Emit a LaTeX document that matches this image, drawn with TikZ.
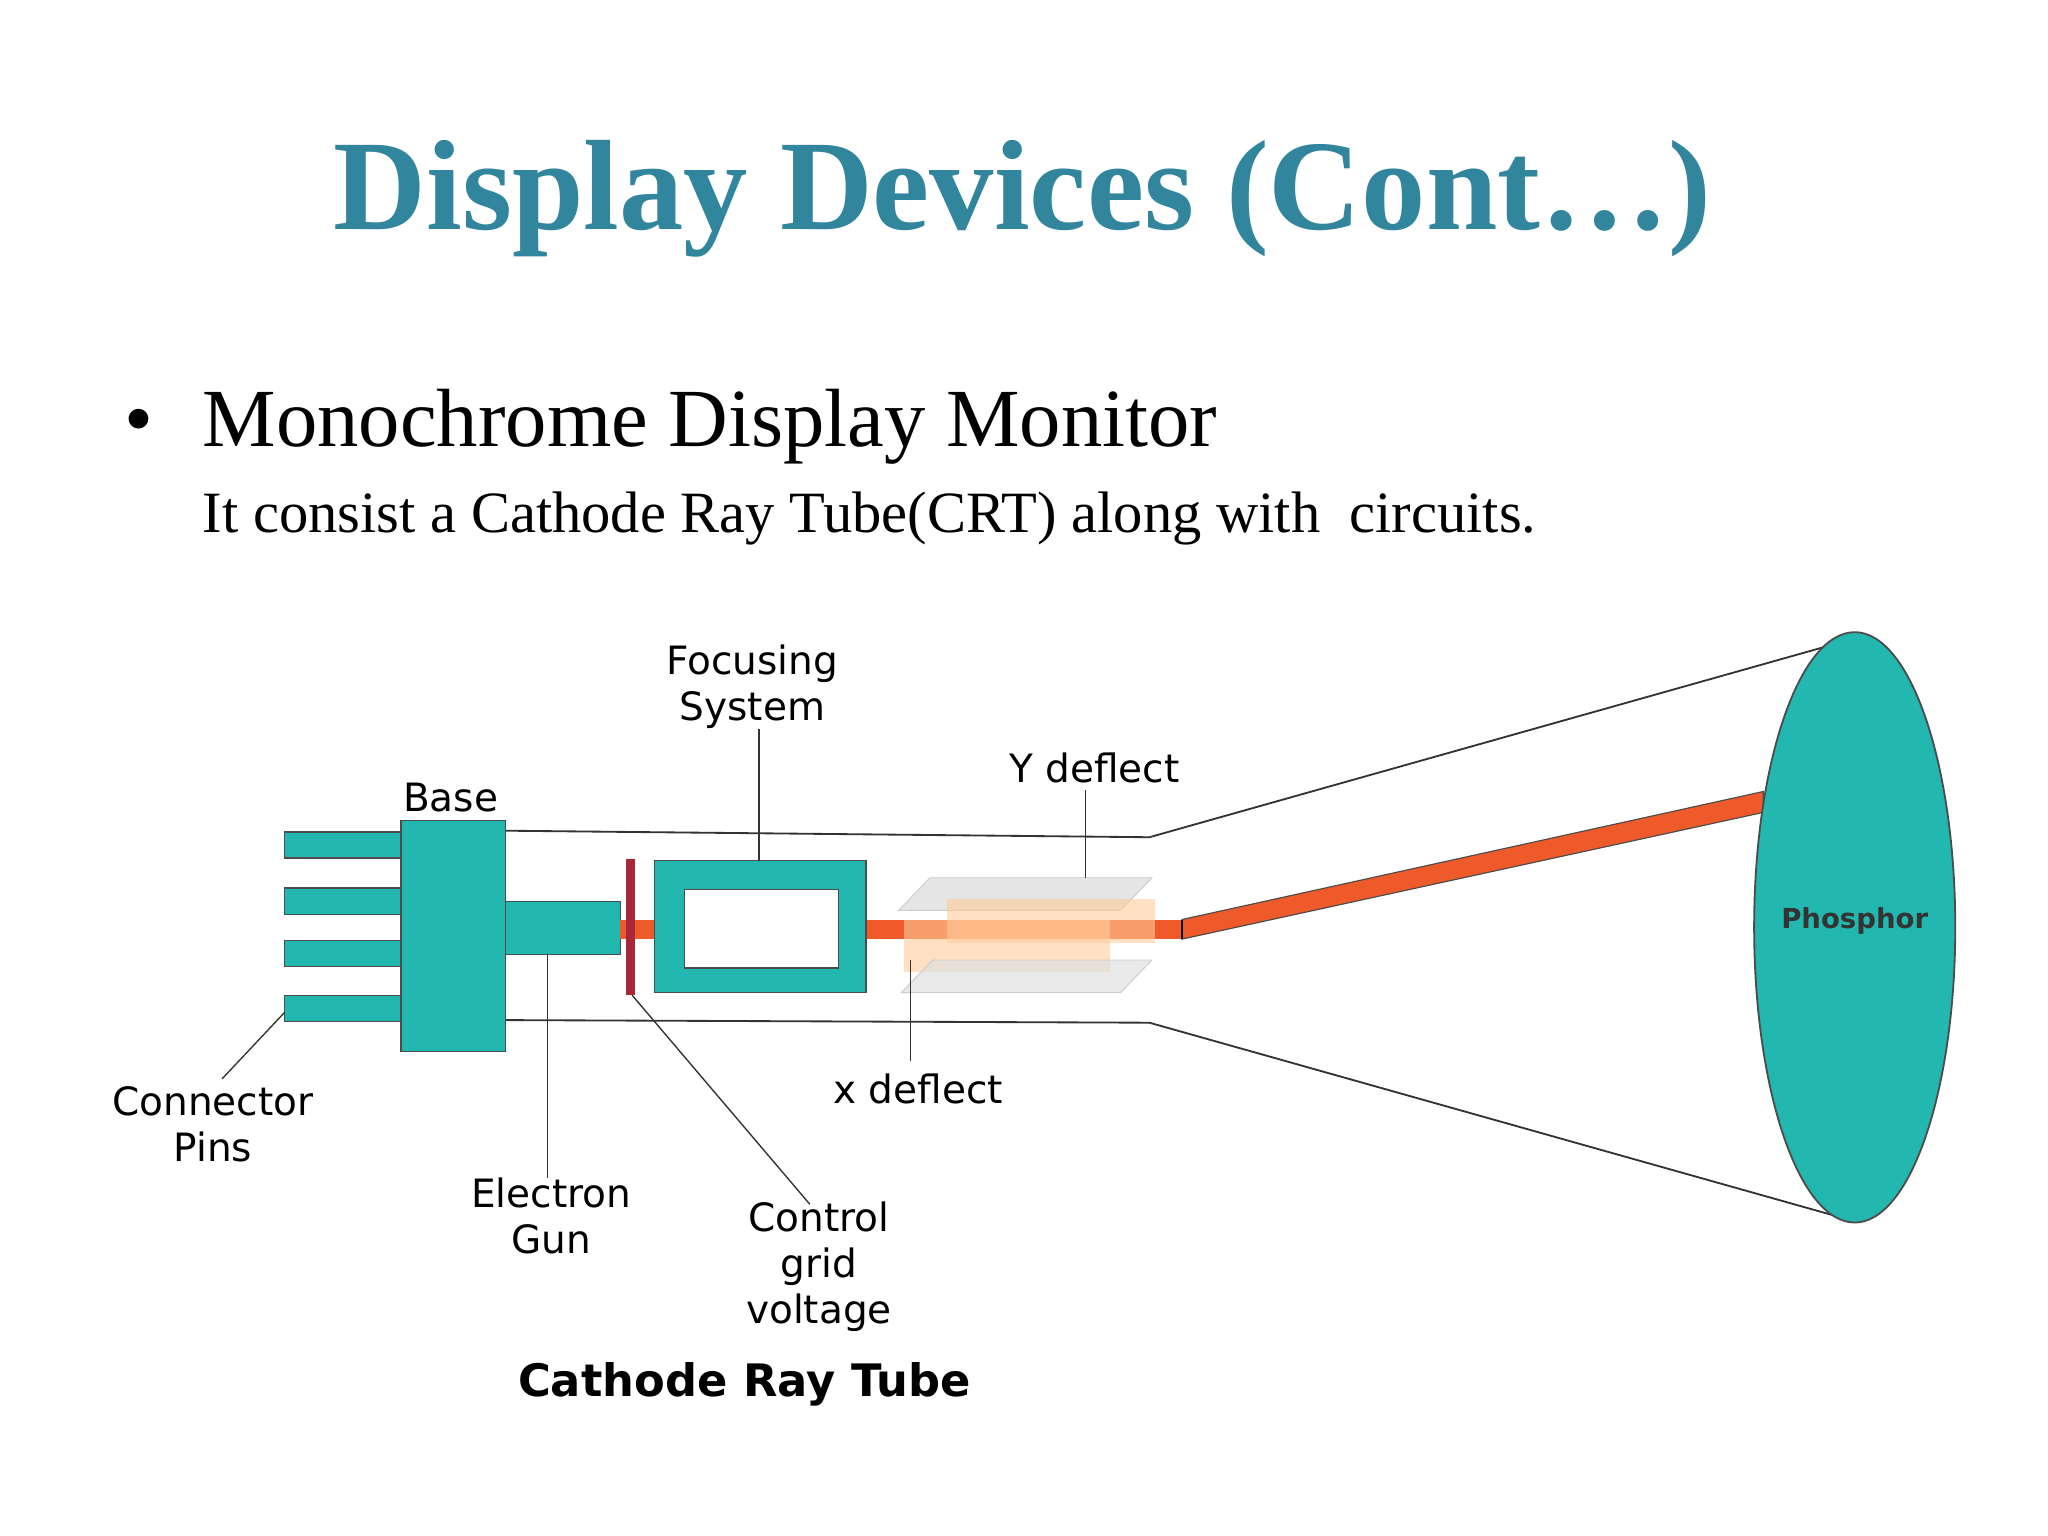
\documentclass[tikz,border=0pt]{standalone}
\usepackage{fontspec}
\setmainfont{Liberation Serif}
\newfontfamily\lbl{DejaVu Sans}
\begin{document}
\begin{tikzpicture}[x=0.02cm,y=-0.02cm,
  teal/.style={fill=tealc,draw=black!70,line width=0.6pt},
  lab/.style={font=\lbl\fontsize{17}{20}\selectfont,align=center,inner sep=0pt},
  lead/.style={draw=black!80,line width=0.6pt}]
\definecolor{tealc}{HTML}{22B8B0}
\definecolor{titlec}{HTML}{31859C}
\definecolor{beamc}{HTML}{EE5A2A}
\definecolor{gridc}{HTML}{A8283A}
\useasboundingbox (0,0) rectangle (1568,1176);
\node[text=titlec,font=\fontsize{56}{62}\selectfont\bfseries] (title) at (783,152) {Display Devices (Cont…)};
\node[anchor=base west,font=\fontsize{36}{42}\selectfont,inner sep=0pt] (b1) at (95,342) {•};
\node[anchor=base west,font=\fontsize{36}{42}\selectfont,inner sep=0pt] (mono) at (155,342) {Monochrome Display Monitor};
\node[anchor=base west,font=\fontsize{25.5}{30}\selectfont,inner sep=0pt] (sub) at (155,408) {It consist a Cathode Ray Tube(CRT) along with\ \ circuits.};
% tube outline
\draw[line width=0.8pt,draw=black!80] (387,636) -- (880,641) -- (1398,495);
\draw[line width=0.8pt,draw=black!80] (387,781) -- (880,783) -- (1402,930);
% pins
\foreach \y/\n in {637/p1,680/p2,720/p3,762/p4}
  \draw[teal] (218,\y) rectangle (308,\y+20) coordinate (\n);
\draw[teal] (307,628) rectangle (387,805);
\draw[teal] (387,690) rectangle (475,731);
% beam
\fill[beamc] (475,704) rectangle (905,719);
\draw[fill=beamc,draw=black!70,line width=0.5pt] (905,704) -- (1350,606) -- (1350,622) -- (905,719) -- cycle;
\draw[line width=0.5pt] (905,704) -- (905,719);
% grid
\fill[gridc] (479,658) rectangle (486,762);
% focusing
\draw[teal] (501,659) rectangle (663,760);
\draw[fill=white,draw=black!70,line width=0.6pt] (524,681) rectangle (642,741);
% deflect plates
\fill[gray!25,opacity=0.8] (688,697) -- (712,672) -- (882,672) -- (858,697) -- cycle;
\draw[gray!40] (688,697) -- (712,672) -- (882,672) -- (858,697) -- cycle;
\fill[orange!40,opacity=0.6] (725,688) rectangle (884,722);
\fill[orange!40,opacity=0.6] (692,704) rectangle (850,744);
\fill[gray!25,opacity=0.7] (690,760) -- (714,735) -- (882,735) -- (858,760) -- cycle;
\draw[gray!40] (690,760) -- (714,735) -- (882,735) -- (858,760) -- cycle;
% screen
\draw[fill=tealc,draw=black!70,line width=0.8pt] (1420,710) ellipse (77 and 226);
\node[font=\lbl\bfseries\fontsize{12}{14}\selectfont,text=black!80] (ph) at (1420,705) {Phosphor};
% labels
\node[lab] (foc) at (576,526) {Focusing\\System};
\node[lab] (base) at (345,611) {Base};
\node[lab] (yd) at (838,588) {Y deflect};
\node[lab] (xd) at (703,834) {x deflect};
\node[lab] (cp) at (163,861) {Connector\\Pins};
\node[lab] (eg) at (422,931) {Electron\\Gun};
\node[lab] (cg) at (627,970) {Control\\grid\\voltage};
\node[lab,font=\lbl\bfseries\fontsize{19.5}{22}\selectfont] (crt) at (570,1060) {Cathode Ray Tube};
% leaders
\coordinate (a1) at (581,659); \coordinate (a2) at (831,672);
\coordinate (a3) at (697,735); \coordinate (a4) at (419,731);
\coordinate (a5) at (484,762); \coordinate (a6) at (218,775);
\draw[lead] (581,558) -- (a1);
\draw[lead] (831,605) -- (a2);
\draw[lead] (a3) -- (697,812);
\draw[lead] (a4) -- (eg.north -| a4);
\draw[lead] (a5) -- (620,922);
\draw[lead] (a6) -- (170,826);
\end{tikzpicture}
\end{document}
